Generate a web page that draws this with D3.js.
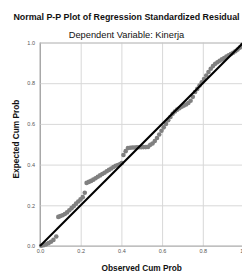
<!DOCTYPE html>
<html><head><meta charset="utf-8">
<script src="https://cdn.jsdelivr.net/npm/d3@7"></script>
<style>
html,body{margin:0;padding:0;background:#fff;overflow:hidden}
svg{display:block;font-family:"Liberation Sans",Arial,sans-serif}
</style></head><body>
<svg id="c" width="242" height="272"></svg>
<script>
const title = "Normal P-P Plot of Regression Standardized Residual";
const subtitle = "Dependent Variable: Kinerja";
const xTitle = "Observed Cum Prob";
const yTitle = "Expected Cum Prob";
const tickValues = [0, 0.2, 0.4, 0.6, 0.8, 1.0];
const tickLabels = ["0.0", "0.2", "0.4", "0.6", "0.8", "1.0"];
const refLine = [[0, 0], [1, 1]];
const obsProb = [0.006,0.018,0.030,0.042,0.054,0.066,0.080,
 0.090,0.100,0.111,0.122,0.133,0.144,0.155,0.166,0.177,0.188,0.199,0.210,0.220,
 0.229,0.240,0.251,0.262,0.273,0.284,0.295,0.306,0.317,0.328,0.339,0.350,0.361,0.372,0.383,0.394,0.402,
 0.410,0.421,0.432,
 0.443,0.454,0.465,0.476,0.487,0.498,0.509,0.520,0.531,
 0.542,0.553,0.564,0.575,0.586,0.597,0.608,0.619,0.630,0.641,0.652,0.663,0.674,0.685,0.696,0.707,0.718,0.729,0.740,0.751,
 0.762,0.773,0.784,0.795,0.806,0.817,0.828,0.839,0.850,0.861,0.872,0.883,0.894,0.905,0.916,0.927,0.938,0.949,0.960,0.971,0.982,0.993];
const expProb = [0.001,0.004,0.008,0.014,0.021,0.030,0.047,
 0.143,0.147,0.151,0.157,0.165,0.176,0.186,0.196,0.208,0.219,0.229,0.240,0.262,
 0.310,0.315,0.320,0.326,0.333,0.340,0.347,0.354,0.360,0.367,0.374,0.381,0.388,0.394,0.398,0.403,0.408,
 0.447,0.466,0.481,
 0.483,0.484,0.484,0.485,0.485,0.485,0.486,0.486,0.487,
 0.497,0.504,0.516,0.531,0.548,0.566,0.583,0.600,0.618,0.634,0.650,0.661,0.670,0.677,0.684,0.690,0.695,0.703,0.714,0.733,
 0.757,0.772,0.789,0.805,0.821,0.838,0.855,0.871,0.884,0.895,0.903,0.910,0.917,0.924,0.931,0.937,0.943,0.950,0.957,0.965,0.975,0.987];

const svg = d3.select("#c");
const x = d3.scaleLinear().domain([0,1]).range([40, 243.5]);
const y = d3.scaleLinear().domain([0,1]).range([246, 42.5]);

// gridlines
const gx = svg.append("g").attr("transform", `translate(0,${y(0)})`)
  .call(d3.axisBottom(x).tickValues(tickValues).tickSize(-(y(0)-y(1))).tickFormat((d,i)=>tickLabels[i]).tickPadding(3));
gx.select(".domain").attr("stroke","#a8a8a8");
gx.selectAll(".tick line").attr("stroke","#d8d8d8");
gx.selectAll(".tick text").attr("fill","#555").attr("font-size",5.5);

const gy = svg.append("g").attr("transform", `translate(${x(0)},0)`)
  .call(d3.axisLeft(y).tickValues(tickValues).tickSize(-(x(1)-x(0))).tickFormat((d,i)=>tickLabels[i]).tickPadding(5));
gy.select(".domain").attr("stroke","#a8a8a8");
gy.selectAll(".tick line").attr("stroke","#d8d8d8");
gy.selectAll(".tick text").attr("fill","#555").attr("font-size",5.5);
// axis lines on top of grid
svg.append("line").attr("x1",x(0)).attr("x2",x(1)).attr("y1",y(0)).attr("y2",y(0)).attr("stroke","#a8a8a8");
svg.append("line").attr("x1",x(0)).attr("x2",x(0)).attr("y1",y(0)).attr("y2",y(1)).attr("stroke","#a8a8a8");

// points
svg.append("g").selectAll("circle").data(obsProb).join("circle")
  .attr("cx",(d)=>x(d)).attr("cy",(d,i)=>y(expProb[i])).attr("r",2.3).attr("fill","#808080");

// reference line
svg.append("path").datum(refLine)
  .attr("d", d3.line().x(d=>x(d[0])).y(d=>y(d[1])))
  .attr("stroke","#000").attr("stroke-width",2).attr("fill","none");

// titles
svg.append("text").attr("x",126.5).attr("y",19.5).attr("text-anchor","middle")
  .attr("font-weight","bold").attr("font-size",8.9).attr("fill","#111").text(title);
svg.append("text").attr("x",126.5).attr("y",37.5).attr("text-anchor","middle")
  .attr("font-size",9.3).attr("fill","#111").text(subtitle);
svg.append("text").attr("x",141.7).attr("y",271).attr("text-anchor","middle")
  .attr("font-weight","bold").attr("font-size",8.3).attr("fill","#111").text(xTitle);
svg.append("text").attr("transform","translate(19,139) rotate(-90)").attr("text-anchor","middle")
  .attr("font-weight","bold").attr("font-size",8.3).attr("fill","#111").text(yTitle);
</script>
</body></html>
